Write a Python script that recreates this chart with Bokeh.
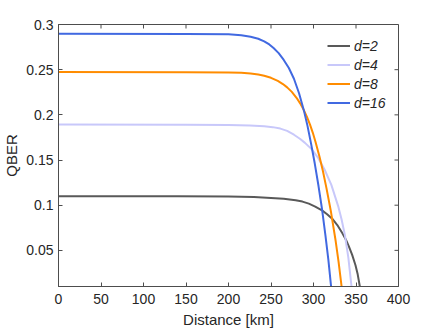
import math
from bokeh.plotting import figure
from bokeh.models import FixedTicker, Range1d, Legend, LegendItem
from bokeh.embed import file_html
from bokeh.resources import INLINE

# ---- data ----
dist_d2 = [0, 140, 200, 230, 250, 265, 279, 287, 294.5, 302, 310, 316, 322, 328, 334, 338,
           341.6, 345.5, 349.4, 352, 354.5, 356]
qber_d2 = [0.110, 0.110, 0.1095, 0.109, 0.108, 0.107, 0.1055, 0.104, 0.1017, 0.0985, 0.0943, 0.090,
           0.085, 0.078, 0.069, 0.062, 0.0545, 0.045, 0.0335, 0.0235, 0.010, 0.0]

dist_d4 = [0, 150, 200, 225, 242, 252, 261, 269, 277, 284, 290, 298, 305, 313, 321, 329, 333,
           337, 341, 344.7, 346]
qber_d4 = [0.1893, 0.1891, 0.1887, 0.1881, 0.1873, 0.1864, 0.1848, 0.1822, 0.178, 0.1735, 0.169,
           0.1618, 0.153, 0.1395, 0.1225, 0.099, 0.0845, 0.0666, 0.042, 0.010, 0.0]

dist_d8 = [0, 150, 200, 215, 226, 235, 242, 250, 258, 264, 269, 274.5, 280, 284.3, 288.6, 292.3,
           296, 299.2, 302.4, 307, 311, 315.3, 320.6, 326, 329.5, 333, 335]
qber_d8 = [0.2473, 0.2472, 0.247, 0.2466, 0.2458, 0.2447, 0.2433, 0.241, 0.2375, 0.2341, 0.2304,
           0.2254, 0.2189, 0.2127, 0.2053, 0.1978, 0.1889, 0.1801, 0.170, 0.1538, 0.1381, 0.1186,
           0.0924, 0.0609, 0.0372, 0.0104, 0.0]

dist_d16 = [0, 150, 200, 215, 226, 235, 242, 248, 253, 259, 265, 271, 277, 283, 288.6, 293,
            297.3, 301.5, 305.9, 310, 314, 317.5, 320.8, 323]
qber_d16 = [0.2898, 0.2895, 0.2891, 0.288, 0.2865, 0.2842, 0.2814, 0.2779, 0.2739, 0.2683, 0.2608,
            0.2518, 0.240, 0.2239, 0.2052, 0.1875, 0.1673, 0.1461, 0.1212, 0.0958, 0.0668, 0.0395,
            0.009, 0.0]

series_labels = ["d=2", "d=4", "d=8", "d=16"]
series_colors = ["#595959", "#c8c8fa", "#ff8c00", "#4169e1"]

x_min, x_max = 0, 400
y_min, y_max = 0.01, 0.3
x_ticks = [0, 50, 100, 150, 200, 250, 300, 350, 400]
y_ticks = [0.05, 0.1, 0.15, 0.2, 0.25, 0.3]
y_tick_labels = ["0.05", "0.1", "0.15", "0.2", "0.25", "0.3"]

FONT = "Liberation Sans"
TXT = "#262626"
AX = "#4d4d4d"

p = figure(width=440, height=330, output_backend="svg", toolbar_location=None,
           x_range=Range1d(x_min, x_max), y_range=Range1d(y_min, y_max),
           min_border_left=58, min_border_right=42, min_border_top=24, min_border_bottom=44,
           background_fill_color="white", border_fill_color="white")
p.grid.visible = False
p.outline_line_color = AX
p.outline_line_width = 1

renderers = []
for xs, ys, c in [(dist_d2, qber_d2, series_colors[0]), (dist_d4, qber_d4, series_colors[1]),
                  (dist_d8, qber_d8, series_colors[2]), (dist_d16, qber_d16, series_colors[3])]:
    renderers.append(p.line(xs, ys, line_color=c, line_width=2))

for ax in (p.xaxis[0], p.yaxis[0]):
    ax.axis_line_color = AX
    ax.axis_line_width = 1
    ax.major_tick_line_color = AX
    ax.major_tick_in = 4
    ax.major_tick_out = 0
    ax.minor_tick_line_color = None
    ax.major_label_text_font = FONT
    ax.major_label_text_color = TXT
    ax.major_label_text_font_size = "14px"
    ax.axis_label_text_font = FONT
    ax.axis_label_text_color = TXT
    ax.axis_label_text_font_size = "15px"
    ax.axis_label_text_font_style = "normal"

p.xaxis.ticker = FixedTicker(ticks=x_ticks)
p.yaxis.ticker = FixedTicker(ticks=y_ticks)
p.yaxis.major_label_overrides = dict(zip(y_ticks, y_tick_labels))
p.xaxis.axis_label = "Distance [km]"
p.yaxis.axis_label = "QBER"
p.xaxis.major_label_standoff = 7
p.xaxis.axis_label_standoff = 4
p.yaxis.major_label_standoff = 5
p.yaxis.axis_label_standoff = 3

# inward ticks on the top and right sides of the box
p.ray(x=x_ticks, y=[y_max] * len(x_ticks), length=4, length_units="screen",
      angle=-math.pi / 2, line_color=AX, line_width=1)
p.ray(x=[x_max] * len(y_ticks), y=y_ticks, length=4, length_units="screen",
      angle=math.pi, line_color=AX, line_width=1)

legend = Legend(items=[LegendItem(label=l, renderers=[r]) for l, r in zip(series_labels, renderers)],
                location=(269, 174), border_line_color=None, background_fill_alpha=0,
                padding=0, margin=0, spacing=0, glyph_width=23, glyph_height=19,
                label_height=19, label_standoff=4,
                label_text_font=FONT, label_text_font_style="italic",
                label_text_font_size="14px", label_text_color=TXT)
p.add_layout(legend)

open("out.html", "w").write(file_html(p, INLINE))
